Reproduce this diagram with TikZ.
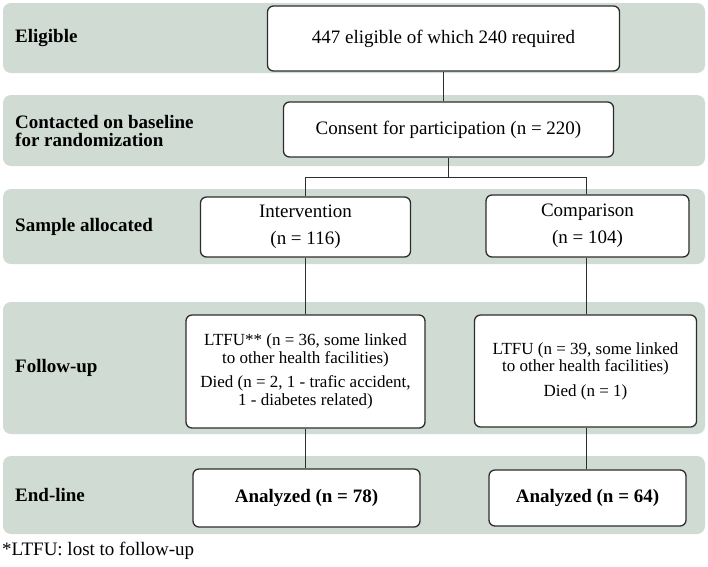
\documentclass[tikz,border=0pt]{standalone}
\usepackage{fontspec}
\setmainfont{Liberation Serif}
\definecolor{bandc}{RGB}{208,219,212}
\definecolor{edgec}{RGB}{45,45,45}
\tikzset{
  bandbox/.style={fill=bandc, rounded corners=8pt, draw=none},
  boxn/.style={draw=edgec, line width=1.3pt, rounded corners=6pt, fill=white, inner sep=0pt, align=center, font=\fontsize{19}{27}\selectfont},
  smalltext/.style={font=\fontsize{17}{17.5}\selectfont},
  boldtext/.style={font=\fontsize{19}{22}\selectfont\bfseries},
  lab/.style={anchor=west, align=left, inner sep=0pt, font=\fontsize{19}{18}\selectfont\bfseries},
  conn/.style={draw=edgec, line width=1.1pt},
}
\begin{document}
\begin{tikzpicture}[x=1pt,y=-1pt]
\useasboundingbox (0,0) rectangle (708,566);
% bands
\fill[bandbox] (3,3) rectangle (705,73);
\fill[bandbox] (3,95) rectangle (705,166);
\fill[bandbox] (3,189) rectangle (705,264);
\fill[bandbox] (3,302) rectangle (705,434);
\fill[bandbox] (3,456) rectangle (705,534);
% labels
\node[lab] (l1) at (15,38) {Eligible};
\node[lab] (l2) at (15,131) {Contacted on baseline\\for randomization};
\node[lab] (l3) at (15,227) {Sample allocated};
\node[lab] (l4) at (15,368) {Follow-up};
\node[lab] (l5) at (15,495) {End-line};
% boxes
\node[boxn, minimum width=352pt, minimum height=65pt] (elig) at (443.5,38.5) {447 eligible of which 240 required};
\node[boxn, minimum width=330pt, minimum height=55pt] (cons) at (448.5,129.5) {Consent for participation (n = 220)};
\node[boxn, minimum width=210pt, minimum height=60pt] (int) at (305.5,227) {Intervention\\(n = 116)};
\node[boxn, minimum width=203pt, minimum height=62pt] (comp) at (587.5,226) {Comparison\\(n = 104)};
\node[boxn, smalltext, minimum width=239pt, minimum height=113pt] (ltfuA) at (305.5,371.5) {LTFU** (n = 36, some linked\\to other health facilities)\\[7pt]Died (n = 2, 1 - trafic accident,\\1 - diabetes related)};
\node[boxn, smalltext, minimum width=222pt, minimum height=112pt] (ltfuB) at (585.5,371) {LTFU (n = 39, some linked\\to other health facilities)\\[7pt]Died (n = 1)};
\node[boxn, boldtext, minimum width=227pt, minimum height=58pt] (anA) at (306.5,498) {Analyzed (n = 78)};
\node[boxn, boldtext, minimum width=197pt, minimum height=56pt] (anB) at (587.5,498) {Analyzed (n = 64)};
% footnote
\node[anchor=west, inner sep=0pt, font=\fontsize{19}{19}\selectfont] (fn) at (2,551) {*LTFU: lost to follow-up};
% connectors
\coordinate (xl) at (305.5,177.5);
\coordinate (xr) at (586.5,177.5);
\draw[conn] (elig.south) -- (elig.south |- cons.north);
\draw[conn] (cons.south) -- (cons.south |- xl);
\draw[conn] (int.north) -- (int.north |- xl) -- (xr) -- (xr |- comp.north);
\draw[conn] (int.south) -- (int.south |- ltfuA.north);
\draw[conn] (xr |- comp.south) -- (xr |- ltfuB.north);
\draw[conn] (ltfuA.south) -- (ltfuA.south |- anA.north);
\draw[conn] (xr |- ltfuB.south) -- (xr |- anB.north);
\end{tikzpicture}
\end{document}
